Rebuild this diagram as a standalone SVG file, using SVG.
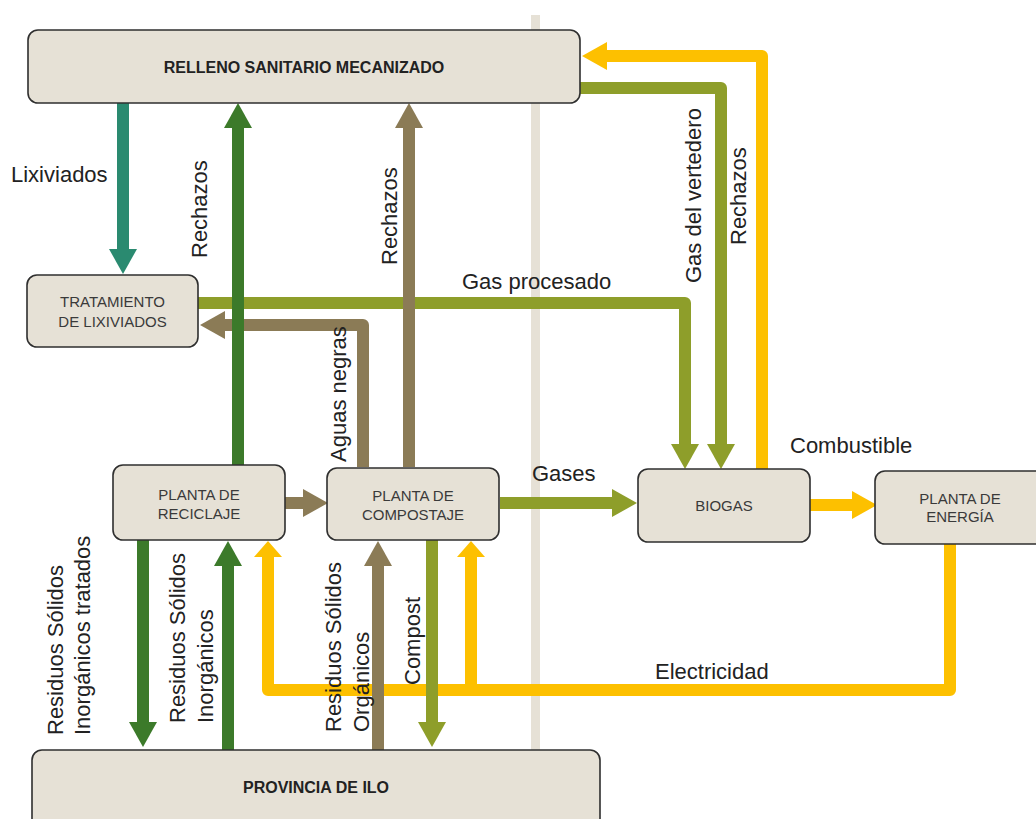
<svg xmlns="http://www.w3.org/2000/svg" width="1036" height="819" viewBox="0 0 1036 819">
<style>
.node rect{fill:#e6e1d6;stroke:#2f2f2f;stroke-width:1.6}
.nt{font-family:"Liberation Sans",Arial,sans-serif;font-size:15px;fill:#3a3a3a;text-anchor:middle}
.nb{font-family:"Liberation Sans",Arial,sans-serif;font-size:16px;font-weight:bold;fill:#222;text-anchor:middle}
.lb{font-family:"Liberation Sans",Arial,sans-serif;font-size:22px;fill:#222}
.c{fill:none;stroke-width:12;stroke-linejoin:round}
.teal{stroke:#2a8a70}.dg{stroke:#3c7a2a}.br{stroke:#8b7b56}.ol{stroke:#8e9e2a}.ye{stroke:#fdc000}
</style>
<defs>
<marker id="mTeal" markerUnits="userSpaceOnUse" viewBox="0 -14 25 28" markerWidth="25" markerHeight="28" refX="1" refY="0" orient="auto"><path d="M0,-14 L25,0 L0,14 z" fill="#2a8a70"/></marker>
<marker id="mDg" markerUnits="userSpaceOnUse" viewBox="0 -14 25 28" markerWidth="25" markerHeight="28" refX="1" refY="0" orient="auto"><path d="M0,-14 L25,0 L0,14 z" fill="#3c7a2a"/></marker>
<marker id="mBr" markerUnits="userSpaceOnUse" viewBox="0 -14 25 28" markerWidth="25" markerHeight="28" refX="1" refY="0" orient="auto"><path d="M0,-14 L25,0 L0,14 z" fill="#8b7b56"/></marker>
<marker id="mOl" markerUnits="userSpaceOnUse" viewBox="0 -14 25 28" markerWidth="25" markerHeight="28" refX="1" refY="0" orient="auto"><path d="M0,-14 L25,0 L0,14 z" fill="#8e9e2a"/></marker>
<marker id="mYe" markerUnits="userSpaceOnUse" viewBox="0 -14 25 28" markerWidth="25" markerHeight="28" refX="1" refY="0" orient="auto"><path d="M0,-14 L25,0 L0,14 z" fill="#fdc000"/></marker>
<marker id="mYs" markerUnits="userSpaceOnUse" viewBox="0 -14 16 28" markerWidth="16" markerHeight="28" refX="1" refY="0" orient="auto"><path d="M0,-14 L16,0 L0,14 z" fill="#fdc000"/></marker>
</defs>
<rect x="531" y="15" width="9" height="740" fill="#e6e1d6"/>
<g id="connectors">
<path class="c ye" d="M950,544 V690 H268 V556" marker-end="url(#mYs)"/>
<path class="c ye" d="M471,690 V556" marker-end="url(#mYs)"/>
<path class="c ol" d="M198,303 H685 V445" marker-end="url(#mOl)"/>
<path class="c ol" d="M580,88 H721 V445" marker-end="url(#mOl)"/>
<path class="c ye" d="M762,469 V56 H606" marker-end="url(#mYe)"/>
<path class="c br" d="M363,467 V325 H224" marker-end="url(#mBr)"/>
<path class="c br" d="M409,467 V127" marker-end="url(#mBr)"/>
<path class="c teal" d="M123,103 V250" marker-end="url(#mTeal)"/>
<path class="c dg" d="M238,465 V127" marker-end="url(#mDg)"/>
<path class="c ol" d="M500,503 H613" marker-end="url(#mOl)"/>
<path class="c ye" d="M810,505 H853" marker-end="url(#mYe)"/>
<path class="c br" d="M285,503 H304" marker-end="url(#mBr)"/>
<path class="c dg" d="M143,540 V723" marker-end="url(#mDg)"/>
<path class="c dg" d="M228,750 V565" marker-end="url(#mDg)"/>
<path class="c br" d="M378,750 V565" marker-end="url(#mBr)"/>
<path class="c ol" d="M432,540 V723" marker-end="url(#mOl)"/>
</g>
<g id="labels">
<text class="lb" x="11" y="182">Lixiviados</text>
<text class="lb" x="462" y="289">Gas procesado</text>
<text class="lb" x="532" y="481">Gases</text>
<text class="lb" x="790" y="453">Combustible</text>
<text class="lb" x="655" y="679">Electricidad</text>
<text class="lb" transform="translate(207,258) rotate(-90)">Rechazos</text>
<text class="lb" transform="translate(397,265) rotate(-90)">Rechazos</text>
<text class="lb" transform="translate(346,462) rotate(-90)">Aguas negras</text>
<text class="lb" transform="translate(701,283) rotate(-90)">Gas del vertedero</text>
<text class="lb" transform="translate(746,245) rotate(-90)">Rechazos</text>
<text class="lb" transform="translate(63,735) rotate(-90)"><tspan x="0" y="0">Residuos Sólidos</tspan><tspan x="0" y="27">Inorgánicos tratados</tspan></text>
<text class="lb" transform="translate(185,723) rotate(-90)"><tspan x="0" y="0">Residuos Sólidos</tspan><tspan x="0" y="28">Inorgánicos</tspan></text>
<text class="lb" transform="translate(341,732) rotate(-90)"><tspan x="0" y="0">Residuos Sólidos</tspan><tspan x="0" y="28">Orgánicos</tspan></text>
<text class="lb" transform="translate(420,685) rotate(-90)">Compost</text>
</g>
<g id="relleno" class="node"><rect x="28" y="30" width="552" height="73" rx="10"/><text class="nb" x="304" y="73">RELLENO SANITARIO MECANIZADO</text></g>
<g id="tratamiento" class="node"><rect x="27" y="275" width="171" height="72" rx="10"/><text class="nt" x="112.5" y="307">TRATAMIENTO</text><text class="nt" x="112.5" y="327">DE LIXIVIADOS</text></g>
<g id="reciclaje" class="node"><rect x="113" y="465" width="172" height="75" rx="10"/><text class="nt" x="199" y="500">PLANTA DE</text><text class="nt" x="199" y="519">RECICLAJE</text></g>
<g id="compostaje" class="node"><rect x="327" y="468" width="172" height="72" rx="10"/><text class="nt" x="413" y="501">PLANTA DE</text><text class="nt" x="413" y="520">COMPOSTAJE</text></g>
<g id="biogas" class="node"><rect x="638" y="469" width="172" height="73" rx="10"/><text class="nt" x="724" y="511">BIOGAS</text></g>
<g id="energia" class="node"><rect x="875" y="471" width="172" height="73" rx="10"/><text class="nt" x="960" y="504">PLANTA DE</text><text class="nt" x="960" y="522">ENERGÍA</text></g>
<g id="provincia" class="node"><rect x="32" y="750" width="568" height="90" rx="10"/><text class="nb" x="316" y="793">PROVINCIA DE ILO</text></g>
</svg>
